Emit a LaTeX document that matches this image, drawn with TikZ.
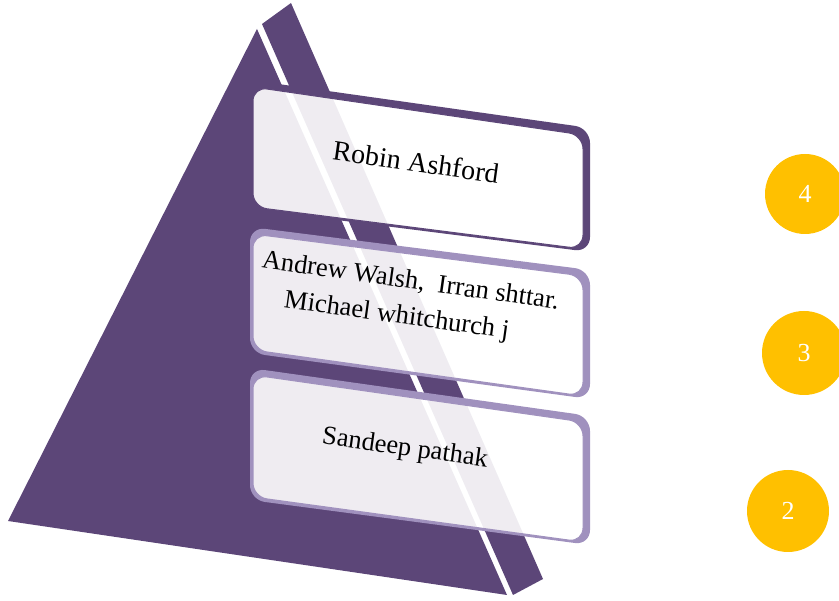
\documentclass[tikz,border=0pt]{standalone}
\usepackage{fontspec}
\setmainfont{Liberation Serif}
\definecolor{pyr}{HTML}{5C4678}
\definecolor{lav}{HTML}{A091BE}
\definecolor{gold}{HTML}{FFC000}
\begin{document}
\begin{tikzpicture}[x=1pt,y=-1pt,
  face/.style={fill=pyr},
  lbl/.style={font=\fontsize{26.5}{36}\selectfont, rotate=-8, align=center, text=black, inner sep=0pt},
  num/.style={circle, fill=gold, inner sep=0pt, text=white, font=\fontsize{26}{28}\selectfont},
  boxfront/.style={fill=white, fill opacity=0.9, rounded corners=14pt, line width=1pt},
  boxback/.style={even odd rule, rounded corners=15pt}]
\useasboundingbox (0,0) rectangle (839,601);
% pyramid faces
\fill[face] (257,29) -- (8,521) -- (507,595) -- cycle;
\fill[face] (262,24) -- (291,3) -- (543,579) -- (513,595) -- cycle;
% box 3
\fill[lav, boxback] (250,368) -- (590,416) -- (590,545) -- (250,500) -- cycle
  [rounded corners=14pt] (253,375) -- (583,422) -- (583,542) -- (253,497) -- cycle;
\path[boxfront, draw=lav] (253,375) -- (583,422) -- (583,542) -- (253,497) -- cycle;
% box 2
\fill[lav, boxback] (250,227) -- (590,270) -- (590,399) -- (250,353) -- cycle
  [rounded corners=14pt] (253,234) -- (583,276) -- (583,396) -- (253,350) -- cycle;
\path[boxfront, draw=lav] (253,234) -- (583,276) -- (583,396) -- (253,350) -- cycle;
% box 1
\fill[pyr, boxback] (250,80) -- (590,128) -- (590,252) -- (250,209) -- cycle
  [rounded corners=14pt] (253,87) -- (583,135) -- (583,249) -- (253,207) -- cycle;
\path[boxfront, draw=pyr] (253,87) -- (583,135) -- (583,249) -- (253,207) -- cycle;
% labels
\node[lbl, font=\fontsize{28}{32}\selectfont] (t1) at (416,162) {Robin Ashford};
\node[lbl] (t2) at (408,300) {Andrew Walsh,\ \ Irran shttar.\\Michael whitchurch j\hspace*{18pt}};
\node[lbl] (t3) at (405,449) {Sandeep pathak};
% number circles
\node[num, minimum size=80pt] (n4) at (805,194) {4};
\node[num, minimum size=84pt] (n3) at (804,353) {3};
\node[num, minimum size=82pt] (n2) at (788,511) {2};
\end{tikzpicture}
\end{document}
